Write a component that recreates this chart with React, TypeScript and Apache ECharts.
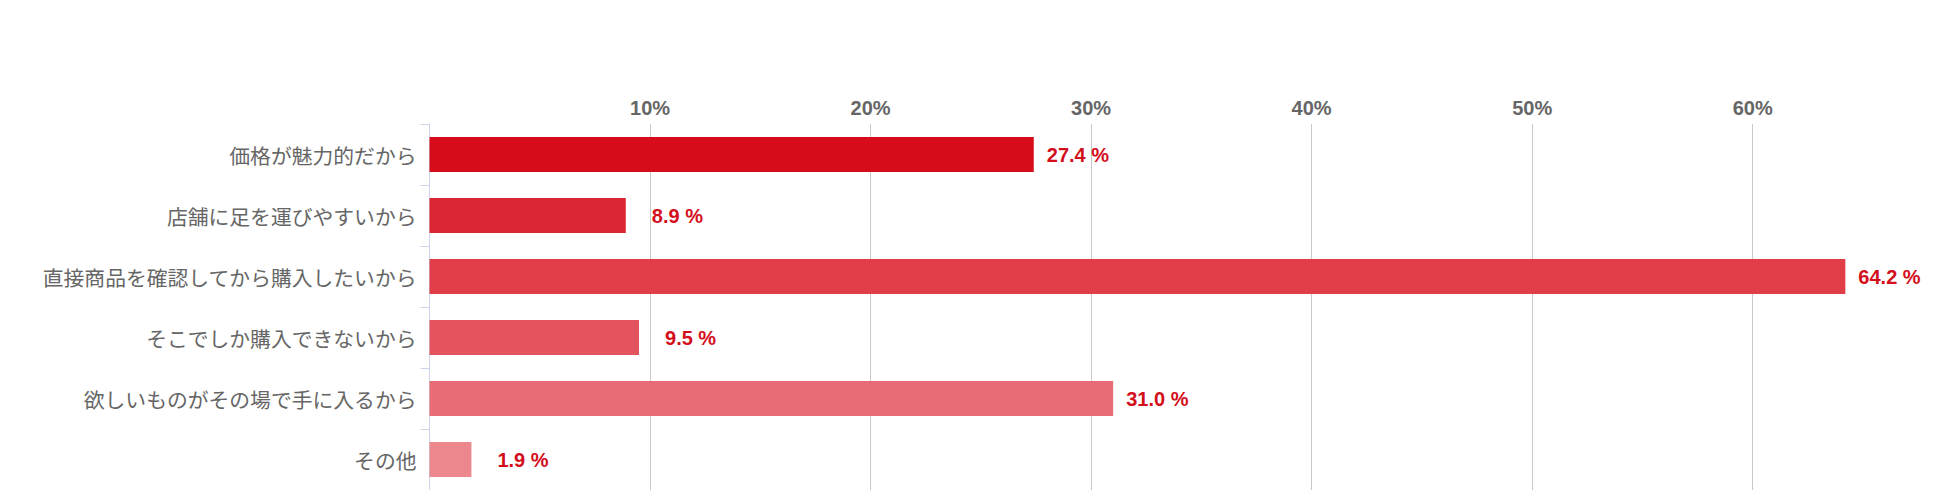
import React, { useEffect, useRef } from "react";
import * as echarts from "echarts";

const categories = [
  "価格が魅力的だから",
  "店舗に足を運びやすいから",
  "直接商品を確認してから購入したいから",
  "そこでしか購入できないから",
  "欲しいものがその場で手に入るから",
  "その他",
];
const values = [27.4, 8.9, 64.2, 9.5, 31.0, 1.9];
const barColors = ["#d60c1a", "#dc2532", "#e03d49", "#e4545f", "#e86c75", "#ec878d"];
const axisMax = 69.4;

export default function App() {
  const ref = useRef<HTMLDivElement>(null);
  useEffect(() => {
    document.body.style.margin = "0";
    document.body.style.overflow = "hidden";
    if (!ref.current) return;
    const chart = echarts.init(ref.current, null, { renderer: "svg" });
    chart.setOption({
      animation: false,
      grid: { left: 429.5, right: 0, top: 124, bottom: 0 },
      xAxis: {
        type: "value",
        position: "top",
        min: 0,
        max: axisMax,
        interval: 10,
        axisLine: { show: false },
        axisTick: { show: false },
        splitLine: { show: true, lineStyle: { color: "#c8c8c8", width: 1 } },
        axisLabel: {
          showMinLabel: false,
          showMaxLabel: false,
          margin: 6,
          color: "#666666",
          fontSize: 20,
          fontWeight: "bold",
          fontFamily: "Liberation Sans, Arial, sans-serif",
          formatter: (v: number) => v + "%",
        },
      },
      yAxis: {
        type: "category",
        inverse: true,
        data: categories,
        axisLine: { show: true, lineStyle: { color: "#ccd6eb", width: 1 } },
        axisTick: { show: true, length: 9, lineStyle: { color: "#ccd6eb" } },
        axisLabel: {
          margin: 13,
          color: "#666666",
          fontSize: 20.8,
          fontFamily: "Noto Sans CJK JP, sans-serif",
        },
      },
      series: [
        {
          type: "bar",
          barWidth: 35,
          data: values.map((v, i) => ({
            value: v,
            itemStyle: { color: barColors[i] },
            label: { distance: v < 10 ? 26 : 13 },
          })),
          label: {
            show: true,
            position: "right",
            color: "#d30f1c",
            fontSize: 20,
            fontWeight: "bold",
            fontFamily: "Liberation Sans, Arial, sans-serif",
            formatter: (p: any) => Number(p.value).toFixed(1) + " %",
          },
        },
      ],
    });
    return () => chart.dispose();
  }, []);
  return <div ref={ref} style={{ width: 1960, height: 490 }} />;
}
